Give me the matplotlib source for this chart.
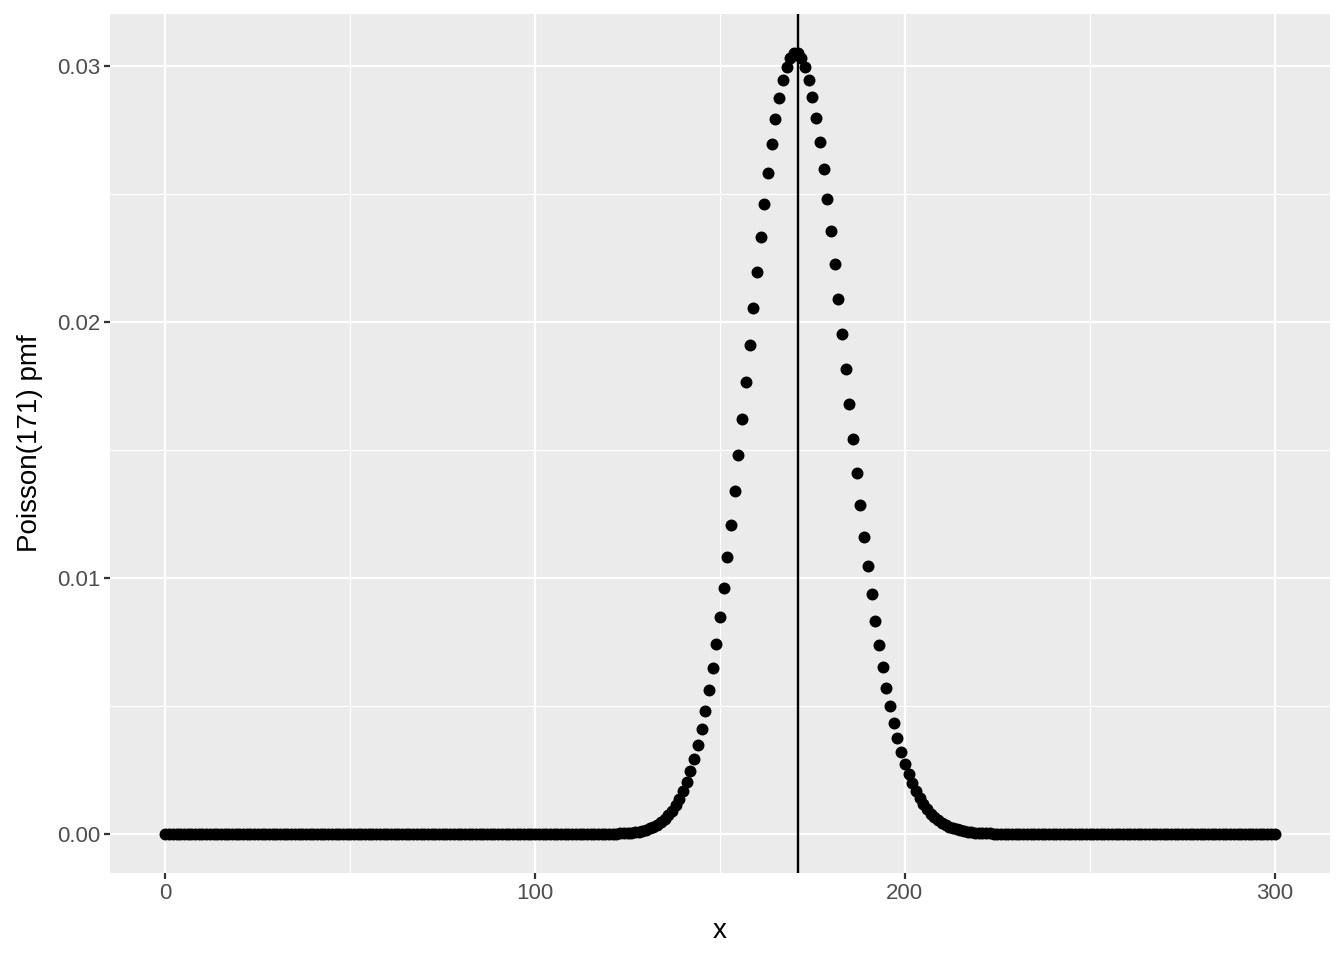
import matplotlib
matplotlib.use("Agg")
import matplotlib.pyplot as plt
import numpy as np
from matplotlib.ticker import MultipleLocator

lam = 171
x_values = list(range(0, 301))

# pmf values (x = 0 .. 300)
pmf_low = [  # x = 0 .. 119
    0.0, 0.0, 0.0, 0.0, 0.0, 0.0, 0.0, 0.0, 0.0, 0.0,
    0.0, 0.0, 0.0, 0.0, 0.0, 0.0, 0.0, 0.0, 0.0, 0.0,
    0.0, 0.0, 0.0, 0.0, 0.0, 0.0, 0.0, 0.0, 0.0, 0.0,
    0.0, 0.0, 0.0, 0.0, 0.0, 0.0, 0.0, 0.0, 0.0, 0.0,
    0.0, 0.0, 0.0, 0.0, 0.0, 0.0, 0.0, 0.0, 0.0, 0.0,
    0.0, 0.0, 0.0, 0.0, 0.0, 0.0, 0.0, 0.0, 0.0, 0.0,
    0.0, 0.0, 0.0, 0.0, 0.0, 0.0, 0.0, 0.0, 0.0, 0.0,
    0.0, 0.0, 0.0, 0.0, 0.0, 0.0, 0.0, 0.0, 0.0, 0.0,
    0.0, 0.0, 0.0, 0.0, 0.0, 0.0, 0.0, 0.0, 0.0, 0.0,
    0.0, 0.0, 0.0, 0.0, 0.0, 0.0, 0.0, 0.0, 0.0, 0.0,
    0.0, 0.0, 0.0, 0.0, 0.0, 0.0, 0.0, 0.0, 0.0, 0.0,
    0.0, 0.0, 0.0, 0.0, 0.0, 0.0, 0.0, 0.0, 0.0, 0.0,
]
pmf_mid = [  # x = 120 .. 229
    0.000007, 0.000010, 0.000014, 0.000020, 0.000028, 0.000038, 0.000052, 0.000070, 0.000094, 0.000125,
    0.000164, 0.000214, 0.000277, 0.000356, 0.000455, 0.000576, 0.000724, 0.000903, 0.001119, 0.001377,
    0.001682, 0.002040, 0.002457, 0.002938, 0.003489, 0.004115, 0.004820, 0.005607, 0.006479, 0.007435,
    0.008476, 0.009599, 0.010799, 0.012069, 0.013401, 0.014784, 0.016205, 0.017650, 0.019102, 0.020544,
    0.021956, 0.023320, 0.024616, 0.025824, 0.026926, 0.027905, 0.028746, 0.029434, 0.029960, 0.030315,
    0.030493, 0.030493, 0.030316, 0.029966, 0.029449, 0.028776, 0.027958, 0.027010, 0.025948, 0.024788,
    0.023549, 0.022248, 0.020903, 0.019532, 0.018152, 0.016778, 0.015425, 0.014105, 0.012830, 0.011608,
    0.010447, 0.009353, 0.008330, 0.007380, 0.006505, 0.005704, 0.004977, 0.004320, 0.003731, 0.003206,
    0.002741, 0.002332, 0.001974, 0.001663, 0.001394, 0.001163, 0.000965, 0.000797, 0.000655, 0.000536,
    0.000437, 0.000354, 0.000285, 0.000229, 0.000183, 0.000146, 0.000115, 0.000091, 0.000071, 0.000055,
    0.000043, 0.000033, 0.000026, 0.000019, 0.000015, 0.000011, 0.000008, 0.000006, 0.000004, 0.000003,
]
pmf_high = [  # x = 230 .. 300
    0.0, 0.0, 0.0, 0.0, 0.0, 0.0, 0.0, 0.0, 0.0, 0.0,
    0.0, 0.0, 0.0, 0.0, 0.0, 0.0, 0.0, 0.0, 0.0, 0.0,
    0.0, 0.0, 0.0, 0.0, 0.0, 0.0, 0.0, 0.0, 0.0, 0.0,
    0.0, 0.0, 0.0, 0.0, 0.0, 0.0, 0.0, 0.0, 0.0, 0.0,
    0.0, 0.0, 0.0, 0.0, 0.0, 0.0, 0.0, 0.0, 0.0, 0.0,
    0.0, 0.0, 0.0, 0.0, 0.0, 0.0, 0.0, 0.0, 0.0, 0.0,
    0.0, 0.0, 0.0, 0.0, 0.0, 0.0, 0.0, 0.0, 0.0, 0.0,
    0.0,
]
pmf_values = pmf_low + pmf_mid + pmf_high

x_ticks = [0, 100, 200, 300]
y_ticks = [0.00, 0.01, 0.02, 0.03]
y_tick_labels = ["0.00", "0.01", "0.02", "0.03"]

plt.rcParams['font.family'] = ['Liberation Sans', 'DejaVu Sans']

fig = plt.figure(figsize=(13.44, 9.6), dpi=100)
ax = fig.add_axes([110/1344, 1 - 873/960, (1330-110)/1344, (873-14)/960])
ax.set_facecolor('#EBEBEB')

ax.scatter(x_values, pmf_values, s=8.6**2, color='black', zorder=3, linewidths=0)
ax.axvline(lam, color='black', linewidth=1.7, zorder=4)

xmin, xmax = 0, 300
xr = xmax - xmin
ax.set_xlim(xmin - 0.05*xr, xmax + 0.05*xr)
ymax = max(pmf_values)
ax.set_ylim(-0.05*ymax, ymax*1.05)

ax.set_xticks(x_ticks)
ax.set_yticks(y_ticks)
ax.set_yticklabels(y_tick_labels)
ax.xaxis.set_minor_locator(MultipleLocator(50))
ax.yaxis.set_minor_locator(MultipleLocator(0.005))

ax.grid(which='major', color='white', linewidth=1.6)
ax.grid(which='minor', color='white', linewidth=0.8)
ax.set_axisbelow(True)
for s in ax.spines.values():
    s.set_visible(False)

ax.tick_params(which='major', length=4, width=1.6, color='#333333', labelcolor='#4D4D4D',
               labelsize=16, pad=3)
ax.tick_params(which='minor', length=0)

ax.set_xlabel('x', fontsize=20, labelpad=10)
ax.set_ylabel('Poisson(171) pmf', fontsize=20, labelpad=10)

fig.savefig('out.png', dpi=100)
